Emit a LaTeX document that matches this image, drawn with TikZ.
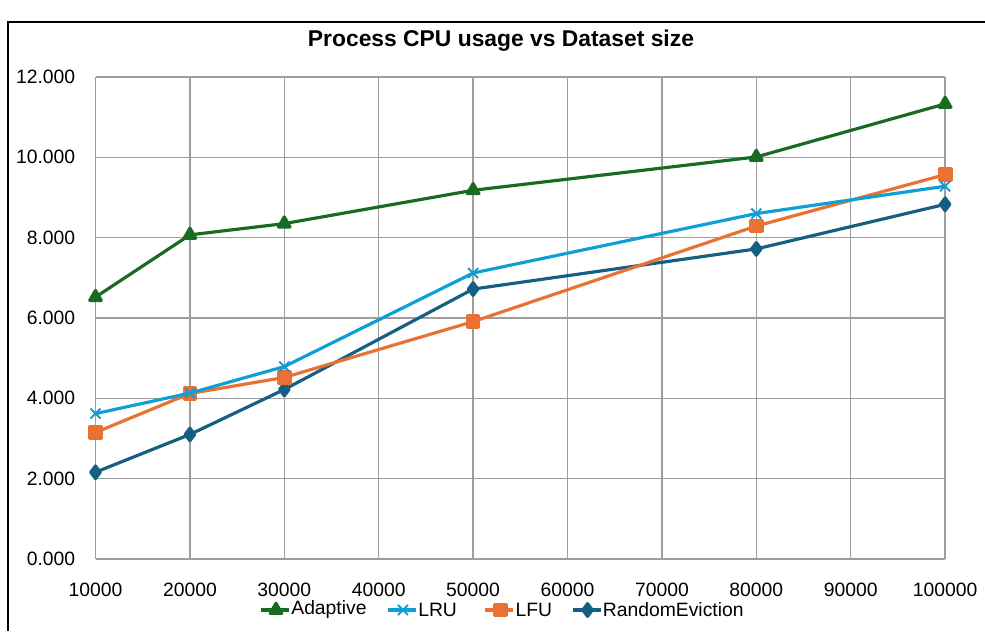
\documentclass[tikz,border=0pt]{standalone}
\usepackage{fontspec}
\setmainfont{Liberation Sans}
\usetikzlibrary{positioning,plotmarks}
\definecolor{adaptcol}{HTML}{196B24}
\definecolor{lrucol}{HTML}{0F9ED5}
\definecolor{lfucol}{HTML}{E97132}
\definecolor{randcol}{HTML}{156082}

\begin{document}
\begin{tikzpicture}
 \tikzset{grid line/.style={draw=black!38, line width=0.8pt}, }
 \tikzset{tick node/.style={font=\fontsize{11}{13}\selectfont, inner sep=0pt}, }
 \tikzset{legend node/.style={font=\fontsize{11}{13}\selectfont, inner sep=0pt, anchor=west}, }
 \tikzset{series/.style={line width=1.8pt, line join=round}, }
 \tikzset{adaptive line/.style={series, adaptcol, mark=triangle*, mark size=3.8pt,
 		mark options={fill=adaptcol, draw=adaptcol}}, }
 \tikzset{lru line/.style={series, lrucol, mark=x, mark size=4pt,
 		mark options={line width=1.1pt}}, }
 \tikzset{lfu line/.style={series, lfucol, mark=square*, mark size=3.3pt,
 		mark options={fill=lfucol, draw=lfucol}}, }
 \tikzset{random line/.style={series, randcol, mark=diamond*, mark size=3.6pt,
 		mark options={fill=randcol, draw=randcol}}, }
 \useasboundingbox (0,0) rectangle (19.7,12.62);
 \fill[white] (0,0) rectangle (19.7,12.62);
 %% chart frame
 \draw[line width=0.9pt] (0.16,0) -- (0.16,12.18) -- (19.75,12.18);
 \node[font=\fontsize{13}{15}\selectfont\bfseries] (title) at (10.02,11.8)
 	{Process CPU usage vs Dataset size};
 \begin{scope}[shift={(0.022,1.44)}, x=1.888cm, y=0.8033cm]
 \foreach \k in {1,...,10}
 \draw[grid line] (\k,0) -- (\k,12);
 \foreach \v in {0,2,...,12}
 \draw[grid line] (1,\v) -- (10,\v);
 \foreach \v in {0,2,...,12}
 \node[tick node, anchor=east] (ylab\v) at ([xshift=-0.4cm]1,\v) {\v.000};
 \foreach \k in {1,...,10}
 \node[tick node] (xlab\k) at ([yshift=-0.62cm]\k,0) {\k0000};
 %% series
 \draw[random line] plot coordinates {(1,2.16) (2,3.10) (3,4.22) (5,6.72) (8,7.72) (10,8.83)};
 \draw[lfu line] plot coordinates {(1,3.15) (2,4.12) (3,4.52) (5,5.91) (8,8.29) (10,9.57)};
 \draw[lru line] plot coordinates {(1,3.62) (2,4.13) (3,4.79) (5,7.12) (8,8.60) (10,9.28)};
 \draw[adaptive line] plot coordinates {(1,6.52) (2,8.07) (3,8.35) (5,9.18) (8,10.01) (10,11.33)};
 \end{scope}
 %% legend
 \node[legend node] (adaptlbl) at (5.82,0.42) {Adaptive};
 \node[legend node, right=1.02cm of adaptlbl] (lrulbl) {LRU};
 \node[legend node, right=1.16cm of lrulbl] (lfulbl) {LFU};
 \node[legend node, right=1.0cm of lfulbl] (randlbl) {RandomEviction};
 \foreach \n/\s in {adaptlbl/adaptive line,lrulbl/lru line,lfulbl/lfu line,randlbl/random line}
 \draw[\s] plot coordinates {([xshift=-0.3cm]\n.west)}
 	([xshift=-0.6cm]\n.west) -- ([xshift=-0.04cm]\n.west);
 %% 
\end{tikzpicture}
\end{document}
